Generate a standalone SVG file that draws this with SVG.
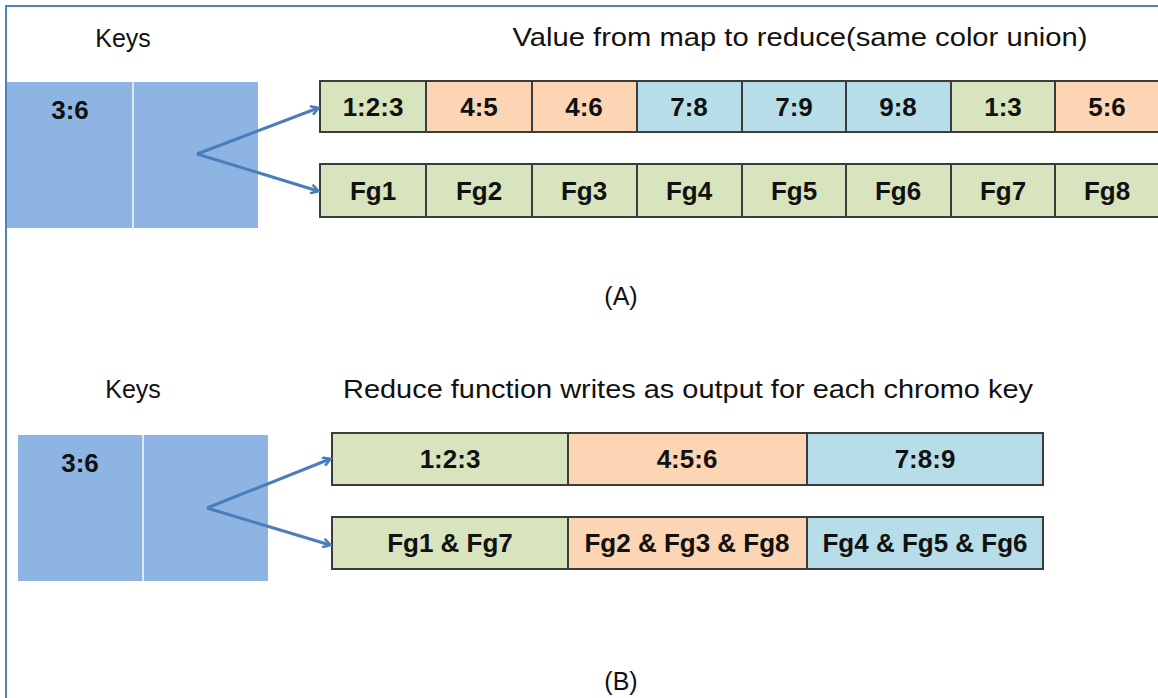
<svg xmlns="http://www.w3.org/2000/svg" width="1158" height="698" viewBox="0 0 1158 698">
  <style>
    .lbl { font-family: "Liberation Sans", Arial, sans-serif; font-size: 25px; fill: #111; }
    .cell text, .key text { font-family: "Liberation Sans", Arial, sans-serif; font-size: 26px; font-weight: bold; fill: #111; text-anchor: middle; }
    .cell rect { stroke: #3c3c3c; stroke-width: 2; }
    .g { fill: #d7e4bd; }
    .o { fill: #fcd5b5; }
    .b { fill: #b7dde8; }
    .keyblk { fill: #8eb4e3; }
    .split { stroke: #dce8f6; stroke-width: 2; }
    .conn { stroke: #4a7ebb; stroke-width: 3; fill: none; marker-end: url(#arr); }
  </style>
  <defs>
    <marker id="arr" markerWidth="10" markerHeight="10" refX="8" refY="5" orient="auto" markerUnits="userSpaceOnUse" viewBox="0 0 10 10">
      <path d="M1,0.5 L8.5,5 L1,9.5" fill="none" stroke="#4a7ebb" stroke-width="2.6" stroke-linejoin="miter"/>
    </marker>
  </defs>

  <rect width="1158" height="698" fill="#ffffff"/>
  <!-- frame: top and left rule -->
  <path d="M6,698 L6,6 L1158,6" fill="none" stroke="#4f81bd" stroke-width="2"/>

  <!-- Panel A -->
  <text class="lbl" x="123" y="47" text-anchor="middle">Keys</text>
  <text class="lbl" x="800" y="46" text-anchor="middle" textLength="575" lengthAdjust="spacingAndGlyphs">Value from map to reduce(same color union)</text>

  <g id="keyA" class="key">
    <rect class="keyblk" x="7" y="82" width="251" height="146"/>
    <line class="split" x1="133" y1="82" x2="133" y2="228"/>
    <text x="70" y="119">3:6</text>
  </g>

  <g id="valuesA" class="cell">
    <rect class="g" x="320" y="81" width="106" height="51"/>
    <rect class="o" x="426" y="81" width="106" height="51"/>
    <rect class="o" x="532" y="81" width="105" height="51"/>
    <rect class="b" x="637" y="81" width="105" height="51"/>
    <rect class="b" x="742" y="81" width="104" height="51"/>
    <rect class="b" x="846" y="81" width="105" height="51"/>
    <rect class="g" x="951" y="81" width="104" height="51"/>
    <rect class="o" x="1055" y="81" width="106" height="51"/>
    <text x="373" y="116">1:2:3</text>
    <text x="479" y="116">4:5</text>
    <text x="584" y="116">4:6</text>
    <text x="689" y="116">7:8</text>
    <text x="794" y="116">7:9</text>
    <text x="898" y="116">9:8</text>
    <text x="1003" y="116">1:3</text>
    <text x="1107" y="116">5:6</text>
  </g>

  <g id="fragsA" class="cell">
    <rect class="g" x="320" y="164" width="106" height="53"/>
    <rect class="g" x="426" y="164" width="106" height="53"/>
    <rect class="g" x="532" y="164" width="105" height="53"/>
    <rect class="g" x="637" y="164" width="105" height="53"/>
    <rect class="g" x="742" y="164" width="104" height="53"/>
    <rect class="g" x="846" y="164" width="105" height="53"/>
    <rect class="g" x="951" y="164" width="104" height="53"/>
    <rect class="g" x="1055" y="164" width="106" height="53"/>
    <text x="373" y="200">Fg1</text>
    <text x="479" y="200">Fg2</text>
    <text x="584" y="200">Fg3</text>
    <text x="689" y="200">Fg4</text>
    <text x="794" y="200">Fg5</text>
    <text x="898" y="200">Fg6</text>
    <text x="1003" y="200">Fg7</text>
    <text x="1107" y="200">Fg8</text>
  </g>

  <text class="lbl" x="621" y="305" text-anchor="middle">(A)</text>

  <!-- Panel B -->
  <text class="lbl" x="133" y="398" text-anchor="middle">Keys</text>
  <text class="lbl" x="688" y="398" text-anchor="middle" textLength="690" lengthAdjust="spacingAndGlyphs">Reduce function writes as output for each chromo key</text>

  <g id="keyB" class="key">
    <rect class="keyblk" x="18" y="435" width="250" height="146"/>
    <line class="split" x1="143" y1="435" x2="143" y2="581"/>
    <text x="80" y="472">3:6</text>
  </g>

  <g id="valuesB" class="cell">
    <rect class="g" x="332" y="433" width="236" height="52"/>
    <rect class="o" x="568" y="433" width="239" height="52"/>
    <rect class="b" x="807" y="433" width="236" height="52"/>
    <text x="450" y="468">1:2:3</text>
    <text x="687" y="468">4:5:6</text>
    <text x="925" y="468">7:8:9</text>
  </g>

  <g id="fragsB" class="cell">
    <rect class="g" x="332" y="517" width="236" height="52"/>
    <rect class="o" x="568" y="517" width="239" height="52"/>
    <rect class="b" x="807" y="517" width="236" height="52"/>
    <text x="450" y="552">Fg1 &amp; Fg7</text>
    <text x="687" y="552">Fg2 &amp; Fg3 &amp; Fg8</text>
    <text x="925" y="552">Fg4 &amp; Fg5 &amp; Fg6</text>
  </g>

  <text class="lbl" x="621" y="690" text-anchor="middle">(B)</text>

  <g id="connectors">
    <path class="conn" d="M197,154 L318,108"/>
    <path class="conn" d="M197,154 L318,191"/>
    <path class="conn" d="M207,508 L330,459"/>
    <path class="conn" d="M207,508 L330,545"/>
  </g>
</svg>
